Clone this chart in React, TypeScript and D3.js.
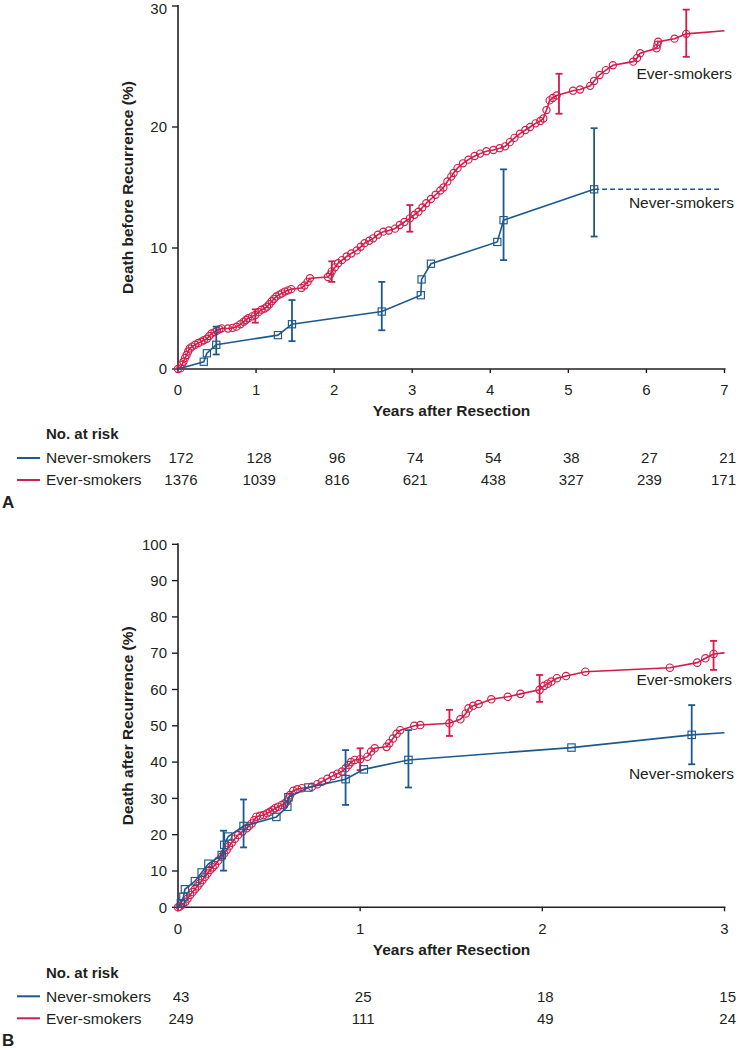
import React from "react";
import * as d3 from "d3";

const RED = "#d21c4b";
const BLUE = "#1c5a8e";
const INK = "#231f20";
const FONT = "'Liberation Sans', Arial, Helvetica, sans-serif";

// ---------- Panel A: death before recurrence ----------
const aYears = [0, 1, 2, 3, 4, 5, 6, 7];
const aYTicks = [0, 10, 20, 30];
const aEver: [number, number][] = [
  [0, 0], [0.03, 0.05], [0.05, 0.35], [0.07, 0.6], [0.09, 0.9], [0.11, 1.16], [0.13, 1.45], [0.15, 1.7],
  [0.18, 1.85], [0.22, 2.0], [0.26, 2.15], [0.3, 2.26], [0.33, 2.38], [0.37, 2.5], [0.4, 2.72], [0.43, 2.94],
  [0.47, 3.05], [0.5, 3.17], [0.53, 3.28], [0.56, 3.36], [0.64, 3.35], [0.7, 3.4], [0.75, 3.5], [0.8, 3.7],
  [0.84, 3.9], [0.87, 4.05], [0.9, 4.2], [0.95, 4.35], [0.99, 4.46], [1.03, 4.7], [1.07, 4.9], [1.11, 5.0],
  [1.14, 5.15], [1.17, 5.35], [1.2, 5.6], [1.23, 5.8], [1.26, 6.0], [1.3, 6.15], [1.33, 6.25], [1.37, 6.4],
  [1.41, 6.5], [1.45, 6.6], [1.58, 6.7], [1.62, 6.9], [1.66, 7.2], [1.69, 7.5], [1.92, 7.6], [1.95, 7.8],
  [1.97, 8.07], [2.01, 8.4], [2.05, 8.74], [2.1, 9.0], [2.16, 9.3], [2.22, 9.55], [2.29, 9.8], [2.34, 10.1],
  [2.39, 10.4], [2.45, 10.6], [2.5, 10.8], [2.56, 11.1], [2.63, 11.35], [2.7, 11.45], [2.78, 11.6], [2.84, 11.9],
  [2.9, 12.15], [2.97, 12.45], [3.03, 12.75], [3.08, 13.0], [3.13, 13.35], [3.18, 13.7], [3.24, 14.05], [3.3, 14.4],
  [3.36, 14.75], [3.4, 15.0], [3.45, 15.5], [3.5, 15.9], [3.53, 16.2], [3.58, 16.6], [3.65, 17.0], [3.72, 17.3],
  [3.8, 17.6], [3.87, 17.8], [3.95, 18.0], [4.04, 18.1], [4.12, 18.25], [4.19, 18.4], [4.25, 18.75], [4.31, 19.1],
  [4.38, 19.45], [4.45, 19.75], [4.51, 20.0], [4.58, 20.3], [4.64, 20.5], [4.68, 20.7], [4.72, 21.4], [4.76, 22.2],
  [4.8, 22.4], [4.85, 22.6], [5.06, 23.0], [5.15, 23.1], [5.28, 23.4], [5.33, 23.8], [5.4, 24.3], [5.48, 24.7],
  [5.57, 25.1], [5.83, 25.4], [5.88, 25.7], [5.92, 26.1], [6.13, 26.5], [6.14, 26.8], [6.15, 27.05], [6.36, 27.3],
  [6.51, 27.7], [7.0, 27.95],
];
const aNever: [number, number][] = [
  [0, 0], [0.33, 0.6], [0.37, 1.3], [0.49, 2.0], [1.28, 2.8], [1.46, 3.7], [2.61, 4.75], [3.11, 6.1],
  [3.12, 7.4], [3.24, 8.7], [4.09, 10.5], [4.17, 12.3], [5.33, 14.85],
];
const aNeverTailEnd = 6.96;
const aEverErr: [number, number, number][] = [
  [0.99, 3.83, 4.93], [1.97, 7.2, 8.9], [2.97, 11.35, 13.55], [4.88, 21.1, 24.4], [6.51, 25.8, 29.7],
];
const aNeverErr: [number, number, number][] = [
  [0.49, 1.2, 3.5], [1.46, 2.3, 5.7], [2.61, 3.2, 7.2], [4.17, 9.0, 16.5], [5.33, 10.95, 19.9],
];
const aRiskNever = [172, 128, 96, 74, 54, 38, 27, 21];
const aRiskEver = [1376, 1039, 816, 621, 438, 327, 239, 171];

// ---------- Panel B: death after recurrence ----------
const bYears = [0, 1, 2, 3];
const bYTicks = [0, 10, 20, 30, 40, 50, 60, 70, 80, 90, 100];
const bEver: [number, number][] = [
  [0, 0], [0.01, 0.2], [0.025, 0.8], [0.04, 1.5], [0.053, 2.4], [0.066, 3.4], [0.08, 4.2], [0.093, 4.96],
  [0.107, 5.8], [0.12, 6.6], [0.134, 7.5], [0.148, 8.4], [0.162, 9.3], [0.176, 10.3], [0.19, 11.0], [0.203, 11.65],
  [0.22, 12.8], [0.24, 13.9], [0.253, 14.8], [0.267, 15.8], [0.28, 16.8], [0.295, 17.8], [0.312, 18.9], [0.33, 19.9],
  [0.354, 20.9], [0.377, 21.8], [0.39, 22.4], [0.405, 23.1], [0.418, 24.0], [0.43, 24.96], [0.45, 25.2], [0.47, 25.4],
  [0.49, 25.9], [0.505, 26.3], [0.52, 26.8], [0.533, 27.3], [0.55, 27.7], [0.57, 28.2], [0.585, 28.6], [0.597, 29.1],
  [0.607, 30.0], [0.615, 30.9], [0.633, 32.1], [0.655, 32.5], [0.68, 32.8], [0.735, 33.2], [0.765, 33.9], [0.79, 34.6],
  [0.82, 35.4], [0.85, 36.2], [0.875, 36.8], [0.9, 37.4], [0.92, 38.3], [0.936, 39.2], [0.95, 40.0], [0.97, 40.6],
  [1.0, 40.8], [1.04, 41.5], [1.06, 42.9], [1.08, 43.8], [1.145, 44.2], [1.16, 45.2], [1.18, 46.5], [1.2, 47.8],
  [1.22, 48.8], [1.297, 50.0], [1.33, 50.2], [1.49, 50.7], [1.55, 51.8], [1.58, 53.4], [1.595, 54.8], [1.62, 55.5],
  [1.65, 56.0], [1.72, 57.3], [1.81, 58.0], [1.88, 58.8], [1.985, 59.9], [2.01, 61.0], [2.03, 61.6], [2.05, 62.2],
  [2.08, 63.1], [2.13, 63.7], [2.236, 64.9], [2.7, 66.0], [2.85, 67.4], [2.895, 68.6], [2.94, 69.8], [3.0, 70.1],
];
const bNever: [number, number][] = [
  [0, 0], [0.016, 1.1], [0.03, 2.9], [0.038, 4.96], [0.093, 7.2], [0.13, 9.6], [0.167, 12.0], [0.24, 14.4],
  [0.254, 17.2], [0.276, 19.5], [0.36, 22.4], [0.54, 24.9], [0.6, 27.7], [0.606, 30.3], [0.716, 33.0], [0.92, 35.3],
  [1.02, 38.0], [1.265, 40.6], [2.16, 44.0], [2.82, 47.5], [3.0, 48.1],
];
const bEverErr: [number, number, number][] = [
  [1.0, 37.8, 43.8], [1.49, 47.2, 54.4], [1.985, 56.6, 64.0], [2.94, 65.4, 73.4],
];
const bNeverErr: [number, number, number][] = [
  [0.25, 10.1, 21.1], [0.36, 16.5, 29.7], [0.92, 28.2, 43.3], [1.265, 33.0, 48.8], [2.82, 39.4, 55.7],
];
const bRiskNever = [43, 25, 18, 15];
const bRiskEver = [249, 111, 49, 24];

type PanelProps = {
  letter: string;
  yTitle: string;
  xMax: number;
  yMax: number;
  years: number[];
  yTicks: number[];
  top: number;
  bottom: number;
  ever: [number, number][];
  never: [number, number][];
  everErr: [number, number, number][];
  neverErr: [number, number, number][];
  neverTailEnd?: number;
  riskNever: number[];
  riskEver: number[];
  everLabelY: number;
  neverLabelY: number;
  markerR: number;
};

function Panel(p: PanelProps) {
  const x = d3.scaleLinear().domain([0, p.xMax]).range([178, 724.5]);
  const y = d3.scaleLinear().domain([0, p.yMax]).range([p.bottom, p.top]);
  const line = d3
    .line<[number, number]>()
    .x((d) => x(d[0]))
    .y((d) => y(d[1]));
  const r = p.markerR;
  const cap = 3.5;
  const xTitleY = p.bottom + 42;
  const riskHeadY = p.bottom + 65;
  const rowNeverY = p.bottom + 89;
  const rowEverY = p.bottom + 111;
  const letterY = p.bottom + 133;

  const errBars = (arr: [number, number, number][], color: string) =>
    arr.map(([t, lo, hi], i) => (
      <g key={i} stroke={color} strokeWidth={1.8}>
        <line x1={x(t)} x2={x(t)} y1={y(lo)} y2={y(hi)} />
        <line x1={x(t) - cap} x2={x(t) + cap} y1={y(lo)} y2={y(lo)} />
        <line x1={x(t) - cap} x2={x(t) + cap} y1={y(hi)} y2={y(hi)} />
      </g>
    ));

  const everMarks = p.ever.slice(0, -1);
  const neverMarks = p.neverTailEnd !== undefined ? p.never.slice(1) : p.never.slice(1, -1);
  const lastNever = p.never[p.never.length - 1];

  const riskCell = (v: number, i: number, n: number, rowY: number) => {
    const last = i === n - 1;
    return (
      <text
        key={i}
        x={last ? 736 : x(p.years[i]) + 3}
        y={rowY}
        dy="0.35em"
        textAnchor={last ? "end" : "middle"}
        fontSize={15}
        fill={INK}
      >
        {v}
      </text>
    );
  };

  return (
    <g>
      <text
        transform={`translate(132.5, ${(p.top + p.bottom) / 2}) rotate(-90)`}
        textAnchor="middle"
        fontWeight="bold"
        fontSize={15.5}
        fill={INK}
      >
        {p.yTitle}
      </text>
      <line x1={178} x2={178} y1={p.top - 1} y2={p.bottom} stroke={INK} strokeWidth={1.6} />
      <line x1={177.2} x2={725.5} y1={p.bottom} y2={p.bottom} stroke={INK} strokeWidth={1.6} />
      {p.yTicks.map((t) => (
        <g key={t}>
          <line x1={172} x2={178} y1={y(t)} y2={y(t)} stroke={INK} strokeWidth={1.4} />
          <text x={167} y={Math.max(y(t), 8.5)} dy="0.35em" textAnchor="end" fontSize={15} fill={INK}>
            {t}
          </text>
        </g>
      ))}
      {p.years.map((t) => (
        <g key={t}>
          <line x1={x(t)} x2={x(t)} y1={p.bottom} y2={p.bottom + 4} stroke={INK} strokeWidth={1.4} />
          <text x={x(t)} y={p.bottom + 21} dy="0.35em" textAnchor="middle" fontSize={15} fill={INK}>
            {t}
          </text>
        </g>
      ))}
      <text x={451.5} y={xTitleY} dy="0.35em" textAnchor="middle" fontWeight="bold" fontSize={15.5} fill={INK}>
        Years after Resection
      </text>

      <path d={line(p.ever) ?? ""} fill="none" stroke={RED} strokeWidth={1.6} />
      {everMarks.map((d, i) => (
        <circle key={i} cx={x(d[0])} cy={y(d[1])} r={r} fill="none" stroke={RED} strokeWidth={1.15} />
      ))}
      {errBars(p.everErr, RED)}

      <path d={line(p.never) ?? ""} fill="none" stroke={BLUE} strokeWidth={1.6} />
      {p.neverTailEnd !== undefined && (
        <line
          x1={x(lastNever[0])}
          x2={x(p.neverTailEnd)}
          y1={y(lastNever[1])}
          y2={y(lastNever[1])}
          stroke={BLUE}
          strokeWidth={1.6}
          strokeDasharray="5,3"
        />
      )}
      {neverMarks.map((d, i) => (
        <rect
          key={i}
          x={x(d[0]) - r}
          y={y(d[1]) - r}
          width={2 * r}
          height={2 * r}
          fill="none"
          stroke={BLUE}
          strokeWidth={1.15}
        />
      ))}
      {errBars(p.neverErr, BLUE)}

      <text x={732} y={p.everLabelY} dy="0.35em" textAnchor="end" fontSize={15.5} fill={INK}>
        Ever-smokers
      </text>
      <text x={734} y={p.neverLabelY} dy="0.35em" textAnchor="end" fontSize={15.5} fill={INK}>
        Never-smokers
      </text>

      <text x={46} y={riskHeadY} dy="0.35em" fontWeight="bold" fontSize={15} fill={INK}>
        No. at risk
      </text>
      <line x1={17} x2={40} y1={rowNeverY} y2={rowNeverY} stroke={BLUE} strokeWidth={2} />
      <text x={46} y={rowNeverY} dy="0.35em" fontSize={15.5} fill={INK}>
        Never-smokers
      </text>
      <line x1={17} x2={40} y1={rowEverY} y2={rowEverY} stroke={RED} strokeWidth={2} />
      <text x={46} y={rowEverY} dy="0.35em" fontSize={15.5} fill={INK}>
        Ever-smokers
      </text>
      {p.riskNever.map((v, i) => riskCell(v, i, p.riskNever.length, rowNeverY))}
      {p.riskEver.map((v, i) => riskCell(v, i, p.riskEver.length, rowEverY))}
      <text x={2} y={letterY} dy="0.35em" fontWeight="bold" fontSize={17} fill={INK}>
        {p.letter}
      </text>
    </g>
  );
}

export default function App() {
  return (
    <svg
      width={738}
      height={1050}
      viewBox="0 0 738 1050"
      style={{ position: "absolute", left: 0, top: 0, background: "#fff", fontFamily: FONT }}
    >
      <rect width={738} height={1050} fill="#fff" />
      <Panel
        letter="A"
        yTitle="Death before Recurrence (%)"
        xMax={7}
        yMax={30}
        years={aYears}
        yTicks={aYTicks}
        top={6}
        bottom={369}
        ever={aEver}
        never={aNever}
        everErr={aEverErr}
        neverErr={aNeverErr}
        neverTailEnd={aNeverTailEnd}
        riskNever={aRiskNever}
        riskEver={aRiskEver}
        everLabelY={74}
        neverLabelY={203}
        markerR={3.6}
      />
      <Panel
        letter="B"
        yTitle="Death after Recurrence (%)"
        xMax={3}
        yMax={100}
        years={bYears}
        yTicks={bYTicks}
        top={544.3}
        bottom={907.3}
        ever={bEver}
        never={bNever}
        everErr={bEverErr}
        neverErr={bNeverErr}
        riskNever={bRiskNever}
        riskEver={bRiskEver}
        everLabelY={680}
        neverLabelY={774}
        markerR={3.7}
      />
    </svg>
  );
}
